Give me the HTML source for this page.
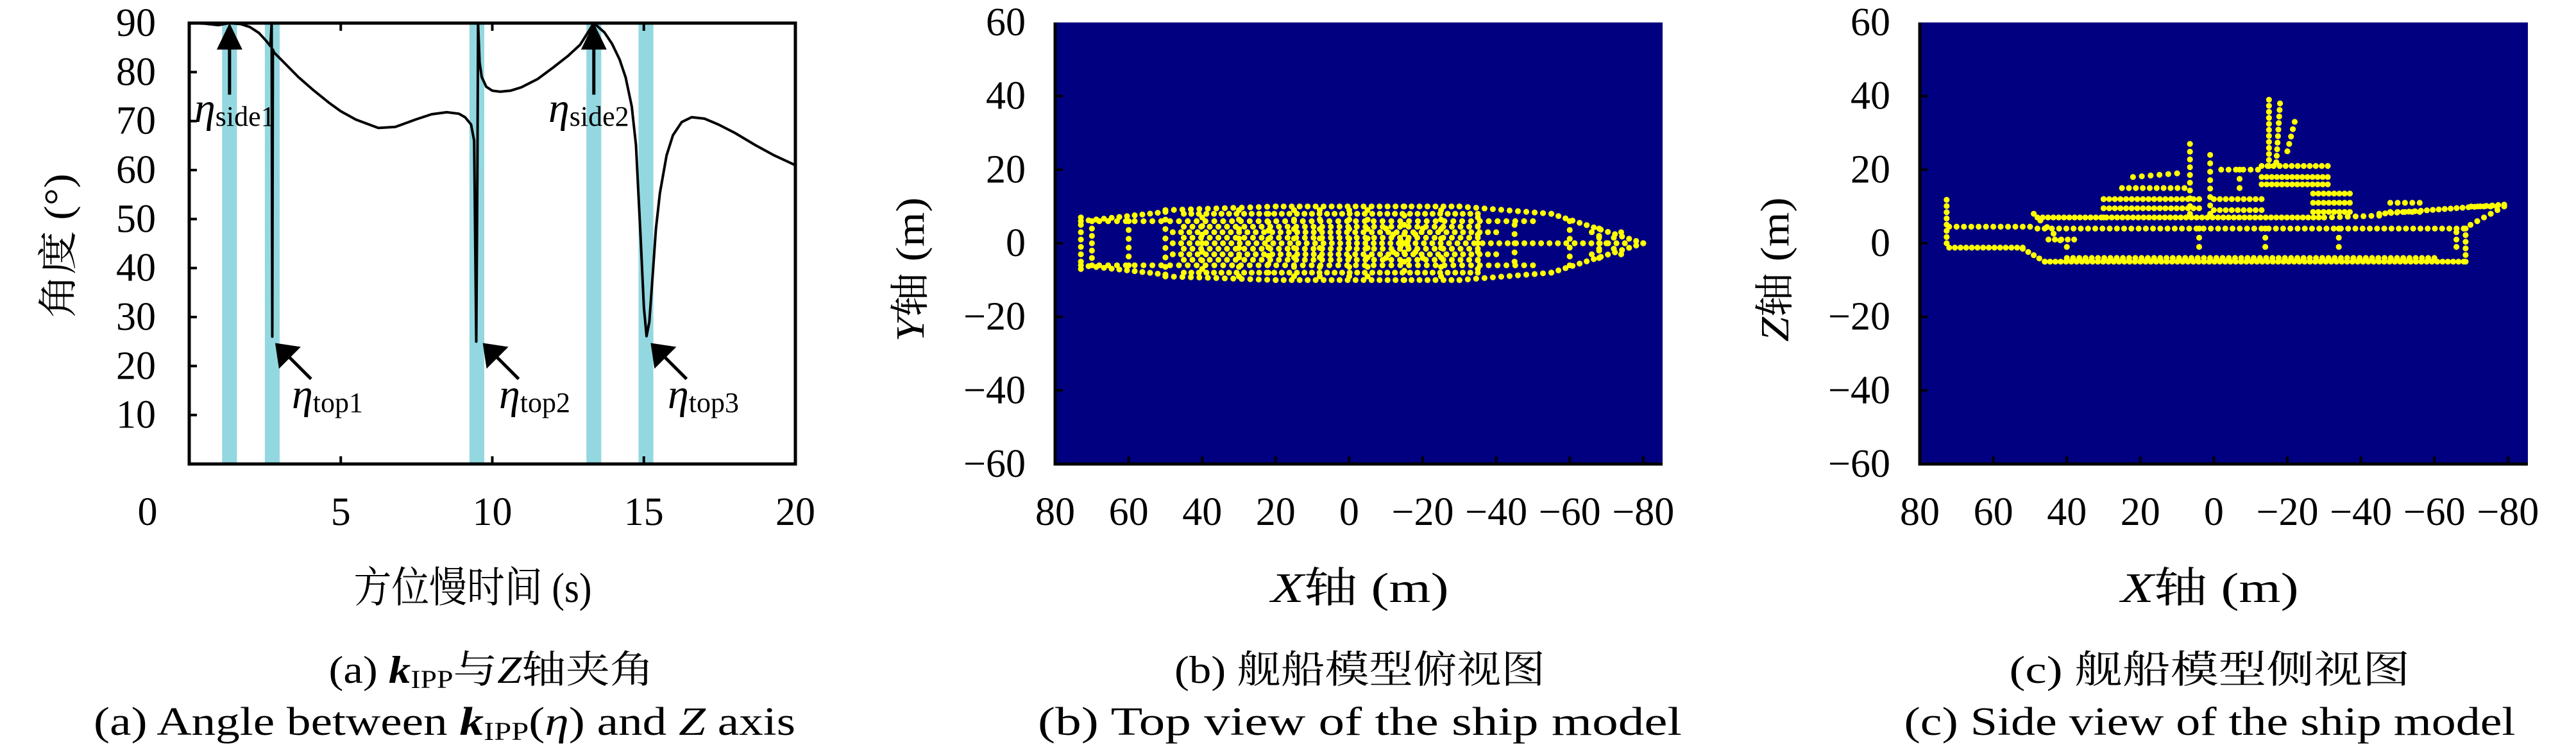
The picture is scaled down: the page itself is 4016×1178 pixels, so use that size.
<!DOCTYPE html>
<html><head><meta charset="utf-8"><style>
html,body{margin:0;padding:0;background:#fff;}
svg{display:block;}
text{font-family:"Liberation Serif","Noto Serif CJK SC",serif;fill:#000;}
</style></head><body>
<svg id="fig" xmlns="http://www.w3.org/2000/svg" width="4016" height="1178" viewBox="0 0 4016 1178"></svg>
<script>
// ---------- Panel (a) data ----------
const angleTime = [0,0.5,0.96,1.32,1.7,2.0,2.3,2.55,2.68,2.72,2.74,2.76,2.8,3.2,3.6,4.1,4.6,5.0,5.5,6.24,6.8,7.46,8.0,8.5,8.9,9.1,9.3,9.4,9.47,9.51,9.53,9.58,9.65,9.8,10.0,10.26,10.6,10.96,11.5,12.0,12.5,12.9,13.35,13.7,13.95,14.2,14.4,14.6,14.74,14.9,15.0,15.09,15.18,15.26,15.4,15.53,15.75,15.96,16.25,16.58,17.0,17.46,18.0,18.68,19.3,20];
const angleDeg  = [90,89.9,89.6,90,89.8,89.2,88,86.3,85.3,90,26,84.6,84.0,81.5,79.0,76.3,73.8,72.0,70.3,68.6,68.8,70.3,71.4,71.8,71.5,70.8,69.3,66,25,60,90,82,79,77,76.2,76,76.2,76.9,78.6,80.9,83.3,85.6,90,88.1,85.8,82.6,78.9,73,65.1,45.5,32,26.1,29,35.7,48,55.3,63,67.1,69.8,70.8,70.5,69.3,67.6,65.1,63,61];
const bandCenters = [1.33,2.74,9.49,13.35,15.07];
const xTicksA = [5,10,15];
const xLabelsA = ["0","5","10","15","20"];
const xLabelValsA = [0,5,10,15,20];
const yTicksA = [10,20,30,40,50,60,70,80,90];
const sideArrows = [1.33,13.35];
const sideNames = ["side1","side2"];
const topArrowTips = [2.75,9.6,15.14];
const topNames = ["top1","top2","top3"];

// ---------- Panel (b)/(c) data ----------
const shipTicks = [80,60,40,20,0,-20,-40,-60,-80];
const shipYTicks = [60,40,20,0,-20,-40,-60];
// top view segments: x1,y1,x2,y2,count
const topViewSegs = [
 [73,6,50,8.5,12],[50,9,20,10,14],[20,10,-30,10,24],[-30,10,-55,8,12],[-55,8,-80,0,14],
 [73,-6,50,-8.5,12],[50,-9,20,-10,14],[20,-10,-30,-10,24],[-30,-10,-55,-8,12],[-55,-8,-80,0,14],
 [73,-7,73,7,8],[70,-6,70,6,7],
 [68,6,-50,6,50],[68,-6,-50,-6,50],[48,3,-40,3,40],[48,-3,-40,-3,40],[48,0,-75,0,55],
 [45,8,-35,8,40],[45,-8,-35,-8,40],[45,-1.5,-35,-1.5,35],[45,1.5,-35,1.5,35],[45,4.5,-35,4.5,35],[45,-4.5,-35,-4.5,35],
 [60,-6,60,6,6],[50,-9,50,9,8],[30,-9,30,9,8],[15,-9,15,9,8],[0,-9,0,9,8],[-15,-10,-15,10,9],[-25,-9,-25,9,8],
 [-60,-6,-60,6,6],[-68,-4,-68,4,5],[-10,-4,-20,4,6],[-10,4,-20,-4,6],[-66,-3,-74,3,5],[-66,3,-74,-3,5],
 [40,-7,40,7,7],[22,-8,22,8,8],[8,-9,8,9,8],[-5,-9,-5,9,8],[-35,-7,-35,7,7],[-45,-5,-45,5,5]
];
// side view segments: x1,z1,x2,z2,count
const sideViewSegs = [
 [72.7,0,72.7,11.8,8],[72,4.5,50,4.5,12],[72,-1.2,52,-1.2,14],[52,-1.5,46,-5,5],[46,-5,-68,-5,80],
 [-68.5,-5,-68.5,4,6],[48,4,-68,4,60],[48,7,-30,7,55],[-30,7,-45,7.5,8],[-45,8,-79,10.5,22],
 [-68,4,-79,10,7],[49,8,40,-1,6],[45,1,38,1,5],[30,12,4,12,18],[30,9.5,4,9.5,18],[30,7,30,12,3],
 [25,15,8,15,10],[22,18,10,19,6],[6.5,8,6.5,27,10],[1,8,1,24,8],[0,12,-13,12,9],[0,9,-13,9,9],
 [-2,20,-12,20,6],[-7,15,-7,20,3],[-15,21,-15,39,12],[-17,22,-18,38,10],[-20,25,-22,33,5],
 [-13,21,-31,21,12],[-13,18,-31,18,14],[-13,16,-31,16,14],[-27,13.5,-37,13.5,8],[-27,11,-37,11,8],
 [-27,8.5,-37,8.5,8],[-48,11,-56,11,5],[-48,8.5,-56,8.5,5],[4,4,4,-1,3],[-14,4,-14,-1,3],[-34,4,-34,-1,3],
 [-70,10,-77,10,5],[-66,-1,-66,3,3],[40,-4,-60,-4,60]
];

const NS="http://www.w3.org/2000/svg";
const svg=document.getElementById('fig');
function mk(tag,attrs,parent){const e=document.createElementNS(NS,tag);for(const k in attrs)e.setAttribute(k,attrs[k]);(parent||svg).appendChild(e);return e;}

// ===== Panel (a) =====
const A={l:295,r:1240,t:36,b:723};
const ax=v=>A.l+(v-0)/20*(A.r-A.l);
const ay=v=>A.b-(v/90)*(A.b-A.t);
const ga=mk('g',{});


bandCenters.forEach((c,i)=>{
  const w=ax(0.49)-ax(0);
  const r=mk('rect',{x:ax(c)-w/2,y:A.t,width:w,height:A.b-A.t,fill:'#93d8e0'},ga);
  
  
});
let d='';
angleTime.forEach((t,i)=>{d+=(i?'L':'M')+ax(t).toFixed(1)+' '+ay(angleDeg[i]).toFixed(1);});
const curve=mk('path',{d:d,fill:'none',stroke:'#000','stroke-width':4,'stroke-linejoin':'round'},ga);


yTicksA.forEach(v=>{
  if(v<90){const tk=mk('line',{x1:A.l,x2:A.l+12,y1:ay(v),y2:ay(v),stroke:'#000','stroke-width':4},ga);
  
  }
  const tl=mk('text',{x:243,y:ay(v)+20,'font-size':62,'text-anchor':'end'},ga);tl.textContent=v;
  
  
});
xTicksA.forEach(v=>{
  const t1=mk('line',{x1:ax(v),x2:ax(v),y1:A.b,y2:A.b-12,stroke:'#000','stroke-width':4},ga);
  
  
  const t2=mk('line',{x1:ax(v),x2:ax(v),y1:A.t,y2:A.t+12,stroke:'#000','stroke-width':4},ga);
  
  
});
xLabelValsA.forEach((v,i)=>{
  const x = v===0 ? 230 : ax(v);
  const tl=mk('text',{x:x,y:818,'font-size':62,'text-anchor':'middle'},ga);tl.textContent=xLabelsA[i];
  
  
});
const fa=mk('rect',{x:A.l,y:A.t,width:A.r-A.l,height:A.b-A.t,fill:'none',stroke:'#000','stroke-width':5},ga);


// side arrows
sideArrows.forEach((s,i)=>{
  const x=ax(s);
  const sh=mk('line',{x1:x,x2:x,y1:ay(75.4),y2:ay(86),stroke:'#000','stroke-width':5},ga);
  
  
  const hd=mk('polygon',{points:`${x},${ay(90)} ${x-20},${ay(84.6)} ${x+20},${ay(84.6)}`,fill:'#000'},ga);
  
  
  const lx = i===0 ? 303 : 855;
  const t=mk('text',{x:lx,y:190,'font-size':66},ga);
  
  
  t.innerHTML='<tspan font-style="italic">η</tspan><tspan font-size="44" dy="6">'+sideNames[i]+'</tspan>';
});
const topLabelX=[455,778,1041];
topArrowTips.forEach((s,i)=>{
  const tx=ax(s)+4, ty=ay(24.7);
  const ex=tx+56, ey=ty+56;
  const sh=mk('line',{x1:tx+18,y1:ty+18,x2:ex,y2:ey,stroke:'#000','stroke-width':5},ga);
  
  
  const hd=mk('polygon',{points:`${tx},${ty} ${tx+6},${ty+40} ${tx+40},${ty+6}`,fill:'#000'},ga);
  
  
  const t=mk('text',{x:topLabelX[i],y:636,'font-size':66},ga);
  
  
  t.innerHTML='<tspan font-style="italic">η</tspan><tspan font-size="44" dy="6">'+topNames[i]+'</tspan>';
});
// titles a
let t=mk('text',{x:0,y:0,'font-size':62,'text-anchor':'middle',transform:'translate(112,383) rotate(-90)',textLength:225,lengthAdjust:'spacingAndGlyphs'});
t.textContent='角度 (°)';


t=mk('text',{x:737,y:938,'font-size':66,'text-anchor':'middle',textLength:371,lengthAdjust:'spacingAndGlyphs'});
t.textContent='方位慢时间 (s)';


t=mk('text',{x:766,y:1064,'font-size':60,'text-anchor':'middle',textLength:507,lengthAdjust:'spacingAndGlyphs'});
t.innerHTML='(a) <tspan font-weight="bold" font-style="italic">k</tspan><tspan font-size="40" dy="8">IPP</tspan><tspan dy="-8">与</tspan><tspan font-style="italic">Z</tspan>轴夹角';


t=mk('text',{x:693,y:1145,'font-size':62,'text-anchor':'middle',textLength:1094,lengthAdjust:'spacingAndGlyphs'});
t.innerHTML='(a) Angle between <tspan font-weight="bold" font-style="italic">k</tspan><tspan font-size="40" dy="8">IPP</tspan><tspan dy="-8">(</tspan><tspan font-style="italic">η</tspan>) and <tspan font-style="italic">Z</tspan> axis';



// ===== Ship panels =====
function shipPanel(cfg){
  const P=cfg.box;
  const sx=v=>P.l+(80-v)*5.73;
  const sy=v=>P.b-(v+60)*5.733;
  const g=mk('g',{});
  
  
  const bg=mk('rect',{x:P.l,y:P.t,width:P.r-P.l,height:P.b-P.t,fill:'#000080'},g);
  
  
  cfg.segs.forEach(s=>{
    for(let k=0;k<s[4];k++){
      const f=s[4]>1?k/(s[4]-1):0;
      const c=mk('circle',{cx:sx(s[0]+(s[2]-s[0])*f),cy:sy(s[1]+(s[3]-s[1])*f),r:4.6,fill:'#ffff00'},g);
      
      
    }
  });
  shipTicks.forEach(v=>{
    if(v<80){const tk=mk('line',{x1:sx(v),x2:sx(v),y1:P.b,y2:P.b-12,stroke:'#000','stroke-width':4},g);
    
    }
    const tl=mk('text',{x:sx(v),y:818,'font-size':62,'text-anchor':'middle'},g);
    tl.textContent=v<0?'−'+(-v):String(v);
    
    
  });
  shipYTicks.forEach(v=>{
    if(v<60&&v>-60){const tk=mk('line',{x1:P.l,x2:P.l+12,y1:sy(v),y2:sy(v),stroke:'#000','stroke-width':4},g);
    
    }
    const tl=mk('text',{x:P.l-46,y:sy(v)+20,'font-size':62,'text-anchor':'end'},g);
    tl.textContent=v<0?'−'+(-v):String(v);
    
    
  });
  const ax2=mk('path',{d:`M${P.l},${P.t} L${P.l},${P.b} L${P.r},${P.b}`,fill:'none',stroke:'#000','stroke-width':5},g);
  
  
  let tt=mk('text',{x:0,y:0,'font-size':62,'text-anchor':'middle',transform:`translate(${cfg.ytx},420) rotate(-90)`,textLength:225,lengthAdjust:'spacingAndGlyphs'},g);
  tt.innerHTML='<tspan font-style="italic">'+cfg.yl+'</tspan>轴 (m)';
  
  
  tt=mk('text',{x:cfg.cx,y:938,'font-size':66,'text-anchor':'middle',textLength:277,lengthAdjust:'spacingAndGlyphs'},g);
  tt.innerHTML='<tspan font-style="italic">X</tspan>轴 (m)';
  
  
  tt=mk('text',{x:cfg.cx,y:1064,'font-size':60,'text-anchor':'middle',textLength:cfg.c1w,lengthAdjust:'spacingAndGlyphs'},g);
  tt.textContent=cfg.c1;
  
  
  tt=mk('text',{x:cfg.cx,y:1145,'font-size':62,'text-anchor':'middle',textLength:cfg.c2w,lengthAdjust:'spacingAndGlyphs'},g);
  tt.textContent=cfg.c2;
  
  
}
shipPanel({name:'top-view-chart',box:{l:1645,r:2592,t:35,b:723},segs:topViewSegs,yl:'Y',ytx:1440,cx:2120,
  c1:'(b) 舰船模型俯视图',c1w:578,c2:'(b) Top view of the ship model',c2w:1004});
shipPanel({name:'side-view-chart',box:{l:2993,r:3941,t:35,b:723},segs:sideViewSegs,yl:'Z',ytx:2788,cx:3445,
  c1:'(c) 舰船模型侧视图',c1w:625,c2:'(c) Side view of the ship model',c2w:953});
</script>
</body></html>
